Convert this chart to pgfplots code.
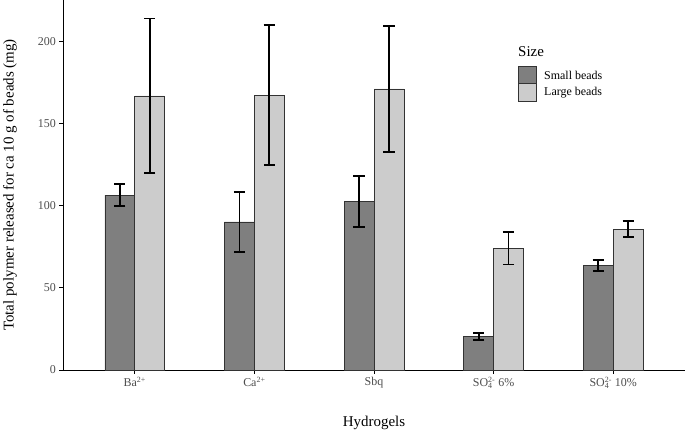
\documentclass[border=0pt]{standalone}
\usepackage{pgfplots}
\pgfplotsset{compat=1.18}
\usepackage{fontspec}
\setmainfont{Liberation Serif}
\definecolor{darkbar}{HTML}{7F7F7F}
\definecolor{lightbar}{HTML}{CCCCCC}
\definecolor{ticklab}{HTML}{4D4D4D}
\begin{document}
\begin{tikzpicture}[x=1bp,y=1bp]
\useasboundingbox (0,0) rectangle (685,433);
\begin{axis}[at={(63bp,63bp)}, anchor=south west, scale only axis,
  width=622bp, height=370bp,
  xmin=-0.6, xmax=4.6, ymin=0, ymax=225,
  axis x line*=bottom, axis y line*=left,
  axis line style={-, line width=0.7bp, black},
  xtick={0,1,2,3,4},
  xticklabels={Ba\textsuperscript{2+}, Ca\textsuperscript{2+}, Sbq,
    SO\rlap{\textsubscript{4}}\textsuperscript{2-}\ 6\%,
    SO\rlap{\textsubscript{4}}\textsuperscript{2-}\ 10\%},
  ytick={0,50,100,150,200},
  tick align=outside, major tick length=3.7bp,
  tick style={black, line width=0.7bp},
  ticklabel style={font=\fontsize{12}{14}\selectfont, text=ticklab},
  /pgf/number format/assume math mode=true,
  ylabel={Total polymer released for ca 10 g of beads (mg)},
  xlabel={Hydrogels},
  every axis y label/.style={at={(axis description cs:-0.0852,0.5)}, rotate=90, anchor=center, font=\fontsize{15}{18}\selectfont},
  every axis x label/.style={at={(axis description cs:0.5,0)}, anchor=base, yshift=-57bp, font=\fontsize{15}{18}\selectfont},
  ybar, bar width=0.25,
  clip=false,
  error bars/error bar style={line width=1.7bp, black},
  error bars/error mark options={rotate=90, line width=1.7bp, black, mark size=5.6bp},
]
\addplot[fill=darkbar, draw=black!80, line width=0.7bp, bar shift=-0.125,
  error bars/.cd, y dir=both, y explicit]
  coordinates {
    (0,106.4) +- (0,6.5)
    (1,90.0) +- (0,18.2)
    (2,102.6) +- (0,15.5)
    (3,20.2) +- (0,2.1)
    (4,63.5) +- (0,3.2)
  };
\addplot[fill=lightbar, draw=black!80, line width=0.7bp, bar shift=0.125,
  error bars/.cd, y dir=both, y explicit]
  coordinates {
    (0,166.7) +- (0,47.1)
    (1,167.2) +- (0,42.5)
    (2,170.9) +- (0,38.2)
    (3,74.1) +- (0,10.0)
    (4,85.7) +- (0,4.9)
  };
\end{axis}
% legend
\node[anchor=west, inner sep=0pt, font=\fontsize{15}{18}\selectfont] at (518,381) {Size};
\draw[fill=darkbar, draw=black!80, line width=0.7bp] (518,350) rectangle (536,366.3);
\draw[fill=lightbar, draw=black!80, line width=0.7bp] (518,332) rectangle (536,350);
\node[anchor=west, inner sep=0pt, font=\fontsize{12}{14}\selectfont] at (544,358) {Small beads};
\node[anchor=west, inner sep=0pt, font=\fontsize{12}{14}\selectfont] at (544,340.5) {Large beads};
\end{tikzpicture}
\end{document}
